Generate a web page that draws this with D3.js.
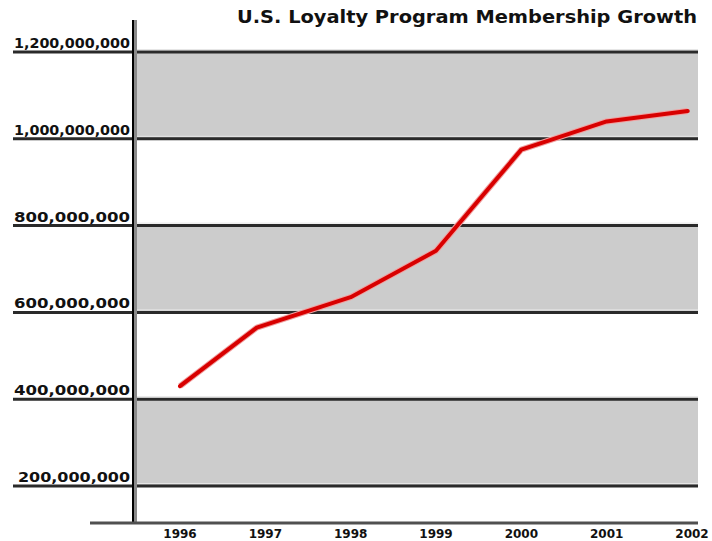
<!DOCTYPE html>
<html>
<head>
<meta charset="utf-8">
<script src="https://cdn.jsdelivr.net/npm/d3@7"></script>
<style>
  body { margin: 0; background: #fff; }
  text { font-family: "DejaVu Sans", Verdana, sans-serif; font-weight: bold; fill: #111; }
</style>
</head>
<body>
<div id="chart"></div>
<script>
// data
const years = [1996, 1996.9, 1998, 1999, 1999.7, 2000, 2001, 2001.95];
const members = [430e6, 565e6, 635e6, 742e6, 905e6, 975e6, 1040e6, 1064e6];
const yTicks = [200e6, 400e6, 600e6, 800e6, 1000e6, 1200e6];
const yLabels = ['200,000,000', '400,000,000', '600,000,000', '800,000,000', '1,000,000,000', '1,200,000,000'];
const xTicks = [1996, 1997, 1998, 1999, 2000, 2001, 2002];
const bands = [[200e6, 400e6], [600e6, 800e6], [1000e6, 1200e6]];
const title = 'U.S. Loyalty Program Membership Growth';

const width = 712, height = 541;
const plotLeft = 133, plotRight = 698, plotBottom = 523;

const svg = d3.select('#chart')
    .append('svg')
    .attr('width', width)
    .attr('height', height);

const x = d3.scaleLinear().domain([1996, 2002]).range([180, 692]);
const y = d3.scaleLinear().domain([200e6, 1200e6]).range([486, 52]);

// gray bands
svg.selectAll('.band')
    .data(bands)
    .enter().append('rect')
    .attr('class', 'band')
    .attr('x', plotLeft)
    .attr('width', plotRight - plotLeft)
    .attr('y', d => y(d[1]))
    .attr('height', d => y(d[0]) - y(d[1]))
    .attr('fill', '#cccccc');

// light edge above each gridline
svg.selectAll('.hl')
    .data(yTicks)
    .enter().append('line')
    .attr('x1', plotLeft).attr('x2', plotRight)
    .attr('y1', d => y(d) - 2.5).attr('y2', d => y(d) - 2.5)
    .attr('stroke', '#e6e6e6')
    .attr('stroke-width', 1);

// gridlines, running under the labels
svg.selectAll('.grid')
    .data(yTicks)
    .enter().append('line')
    .attr('class', 'grid')
    .attr('x1', 13).attr('x2', plotRight)
    .attr('y1', d => y(d)).attr('y2', d => y(d))
    .attr('stroke', '#2a2a2a')
    .attr('stroke-width', 3);

// y labels
svg.selectAll('.ylab')
    .data(yTicks)
    .enter().append('text')
    .attr('class', 'ylab')
    .attr('x', 130)
    .attr('y', d => y(d) - 4)
    .attr('text-anchor', 'end')
    .attr('font-size', 14)
    .attr('textLength', (d, i) => i === 0 ? 112 : 116)
    .attr('lengthAdjust', 'spacingAndGlyphs')
    .text((d, i) => yLabels[i]);

// vertical axis
svg.append('line')
    .attr('x1', plotLeft + 2).attr('x2', plotLeft + 2)
    .attr('y1', 20).attr('y2', plotBottom)
    .attr('stroke', '#8a8a8a')
    .attr('stroke-width', 4);
svg.append('line')
    .attr('x1', plotLeft).attr('x2', plotLeft)
    .attr('y1', 20).attr('y2', plotBottom)
    .attr('stroke', '#000')
    .attr('stroke-width', 2);

// bottom axis
svg.append('line')
    .attr('x1', 90).attr('x2', plotRight)
    .attr('y1', plotBottom).attr('y2', plotBottom)
    .attr('stroke', '#505050')
    .attr('stroke-width', 3);

// x labels
svg.selectAll('.xlab')
    .data(xTicks)
    .enter().append('text')
    .attr('class', 'xlab')
    .attr('x', d => x(d))
    .attr('y', 538)
    .attr('text-anchor', 'middle')
    .attr('font-size', 12)
    .text(d => d);

// the series
const line = d3.line()
    .x((d, i) => x(years[i]))
    .y(d => y(d));

svg.append('path')
    .datum(members)
    .attr('fill', 'none')
    .attr('stroke', '#f0a0a0')
    .attr('stroke-width', 6)
    .attr('stroke-linejoin', 'round')
    .attr('d', line);
svg.append('path')
    .datum(members)
    .attr('fill', 'none')
    .attr('stroke', '#d80000')
    .attr('stroke-width', 4)
    .attr('stroke-linejoin', 'round')
    .attr('stroke-linecap', 'round')
    .attr('d', line);

// title
svg.append('text')
    .attr('x', 697)
    .attr('y', 23)
    .attr('text-anchor', 'end')
    .attr('font-size', 18)
    .attr('textLength', 460)
    .attr('lengthAdjust', 'spacingAndGlyphs')
    .text(title);
</script>
</body>
</html>
